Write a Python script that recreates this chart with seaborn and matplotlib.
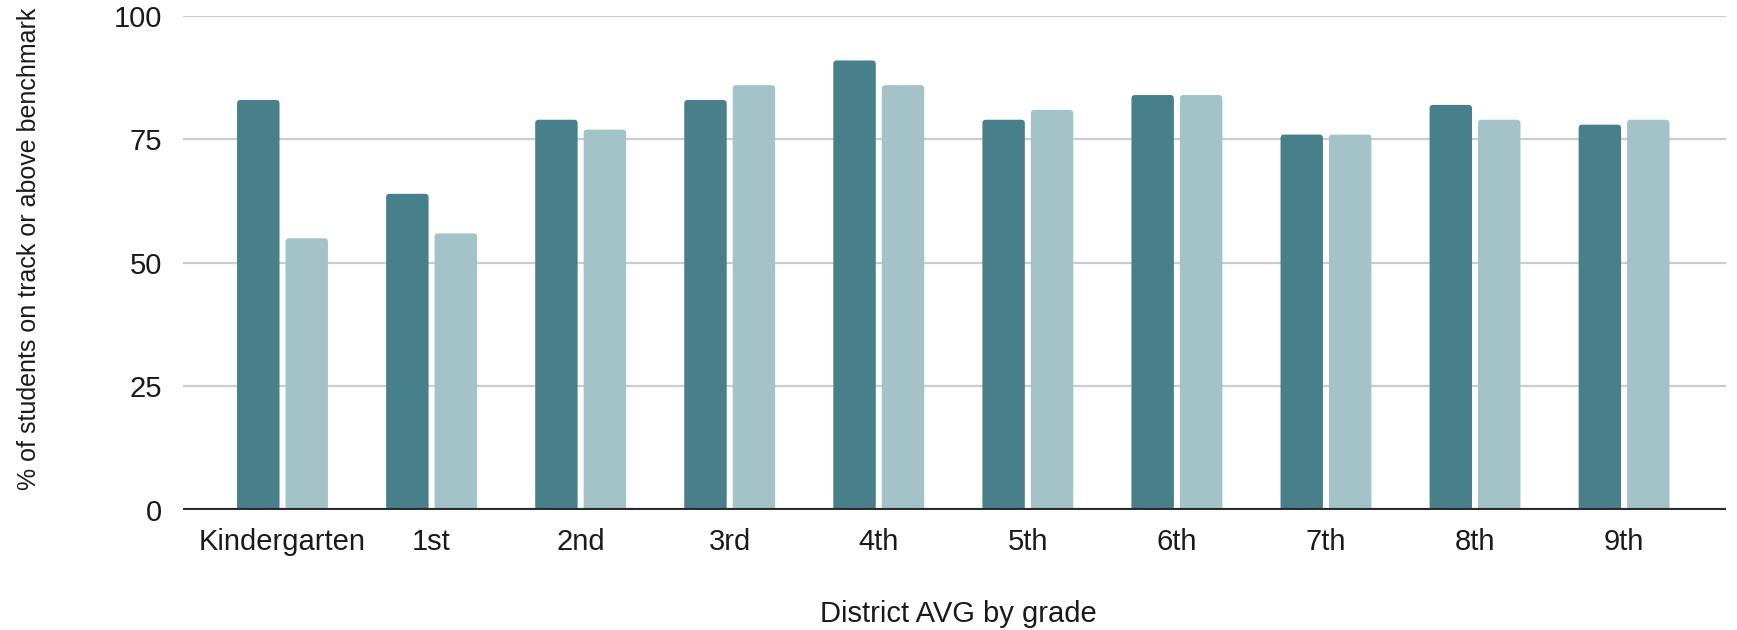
import matplotlib
matplotlib.use("Agg")
import matplotlib.pyplot as plt
from matplotlib.patches import FancyBboxPatch
import seaborn as sns
import pandas as pd

# Grade levels and the share of students on track or above benchmark
grades = ["Kindergarten", "1st", "2nd", "3rd", "4th", "5th", "6th", "7th", "8th", "9th"]
series_names = ["Measure 1", "Measure 2"]
measure_1 = [83, 64, 79, 83, 91, 79, 84, 76, 82, 78]
measure_2 = [55, 56, 77, 86, 86, 81, 84, 76, 79, 79]
y_ticks = [0, 25, 50, 75, 100]

x_title = "District AVG by grade"
y_title = "% of students on track or above benchmark"

dark_teal = "#477F8B"
light_teal = "#A3C3C8"
text_color = "#1A1A1A"

df = pd.DataFrame({
    "grade": grades * 2,
    "series": [series_names[0]] * len(grades) + [series_names[1]] * len(grades),
    "pct": measure_1 + measure_2,
})

sns.set_theme(style="white")
plt.rcParams["font.family"] = ["Liberation Sans", "DejaVu Sans"]

fig = plt.figure(figsize=(17.37, 6.30), dpi=100)
ax = fig.add_axes([0.1054, 0.1905, 0.8883, 0.7841])

sns.barplot(
    data=df, x="grade", y="pct", hue="series", order=grades,
    hue_order=series_names, palette=[dark_teal, light_teal],
    width=0.65, gap=0.124, saturation=1, legend=False, ax=ax,
)

ax.set_ylim(0, 100)
ax.set_xlim(-0.667, 9.684)
ax.set_yticks(y_ticks)
ax.set_yticklabels([str(t) for t in y_ticks])

# Slightly rounded bar corners
fig.canvas.draw()
px_x = ax.transData.transform((1, 0))[0] - ax.transData.transform((0, 0))[0]
px_y = ax.transData.transform((0, 1))[1] - ax.transData.transform((0, 0))[1]
aspect = px_x / px_y
radius_px = 3.5
for p in list(ax.patches):
    x0, y0, w, h = p.get_x(), p.get_y(), p.get_width(), p.get_height()
    rounded = FancyBboxPatch(
        (x0, y0), w, h,
        boxstyle=f"round,pad=0,rounding_size={radius_px / px_x}",
        mutation_aspect=aspect,
        facecolor=p.get_facecolor(), edgecolor="none", zorder=2,
    )
    p.remove()
    ax.add_patch(rounded)

# Grid and baseline
ax.yaxis.grid(True, color="#CCCCCC", linewidth=1.6, zorder=0)
ax.xaxis.grid(False)
ax.set_axisbelow(True)
for s in ax.spines.values():
    s.set_visible(False)
ax.axhline(0, color="#2B2B2B", linewidth=3, zorder=3)

ax.tick_params(axis="y", length=0, pad=15, labelsize=21, labelcolor=text_color)
ax.tick_params(axis="x", length=0, pad=13, labelsize=21, labelcolor=text_color)

ax.set_xlabel(x_title, fontsize=21, color=text_color, va="center")
ax.xaxis.set_label_coords(0.5025, -0.21)
ax.set_ylabel(y_title, fontsize=18, color=text_color, va="center")
ax.yaxis.set_label_coords(-0.1, 0.528)

fig.savefig("out.png", dpi=100, facecolor="white")
